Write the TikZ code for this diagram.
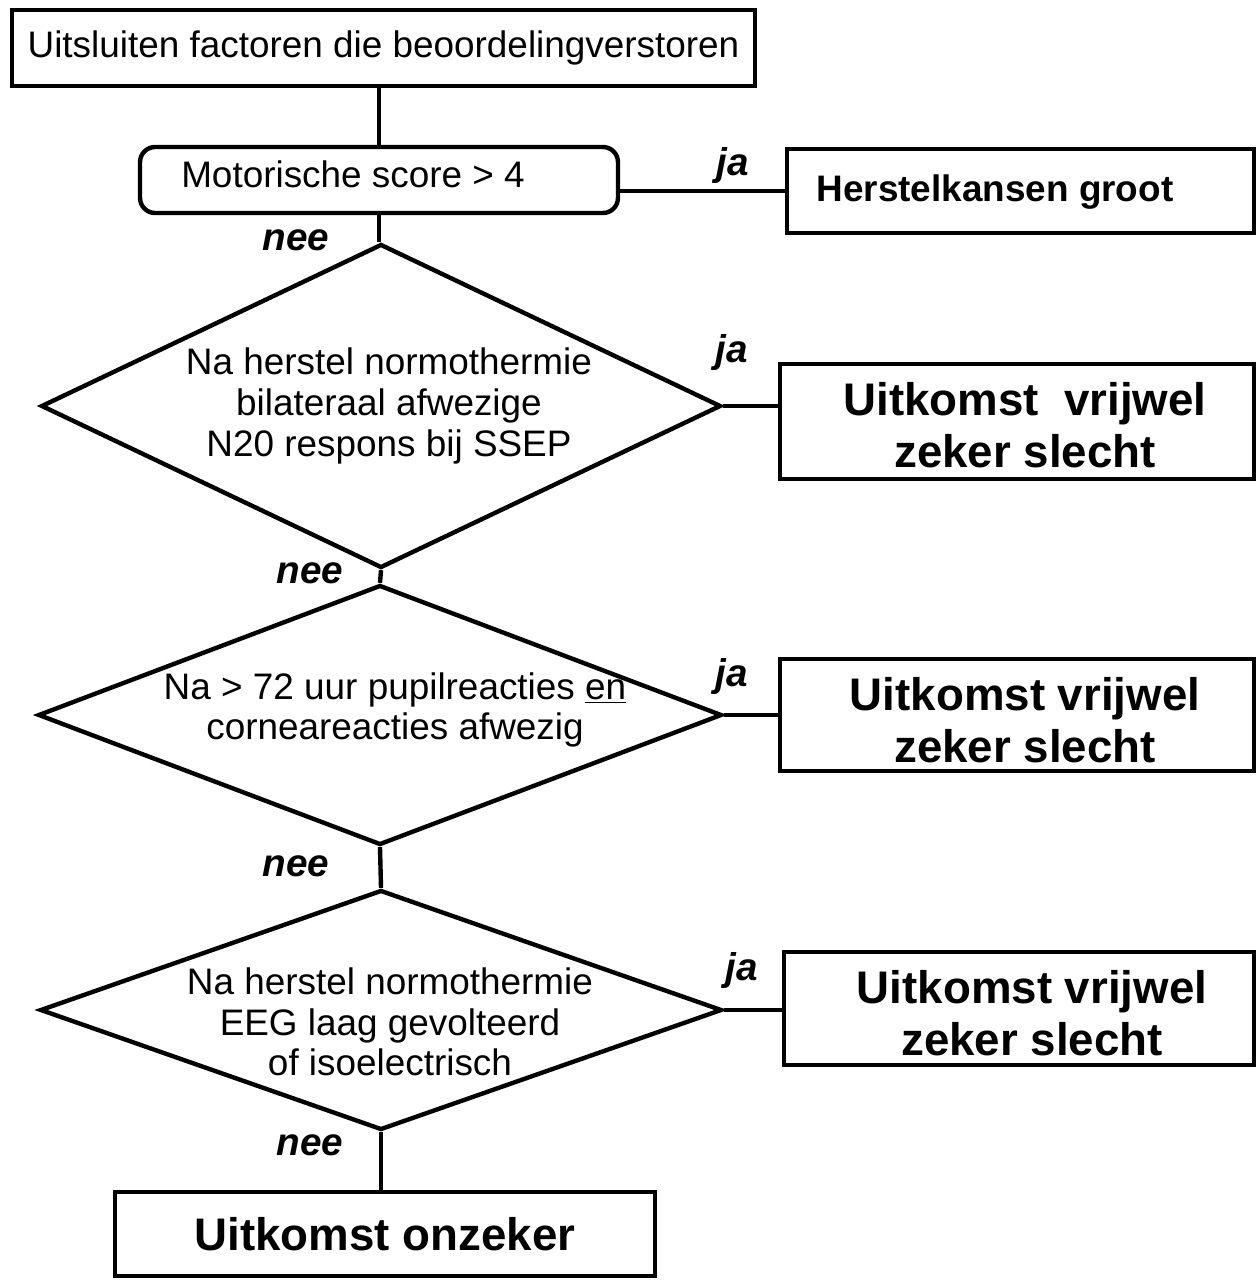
\documentclass[tikz,border=0pt]{standalone}
\usepackage{fontspec}
\setmainfont{Liberation Sans}
\usetikzlibrary{shapes.geometric}
\begin{document}
\begin{tikzpicture}[x=0.02cm,y=-0.02cm,
  box/.style={draw, rectangle, inner sep=0pt, line width=2.5pt},
  dia/.style={draw, diamond, inner sep=0pt, line width=2.5pt},
  conn/.style={line width=2.5pt},
  lbl/.style={font=\fontsize{22}{24}\selectfont\bfseries\itshape, inner sep=0pt},
  txt/.style={font=\fontsize{21}{23.2}\selectfont, align=center, inner sep=0pt},
  bigtxt/.style={font=\fontsize{26}{29.5}\selectfont\bfseries, align=center, inner sep=0pt},
  medtxt/.style={font=\fontsize{21}{23}\selectfont\bfseries, align=center, inner sep=0pt}]
\useasboundingbox (0,0) rectangle (1260,1281);
\fill[white] (0,0) rectangle (1260,1281);

% boxes
\node[box, minimum width=14.86cm, minimum height=1.52cm, txt] (top) at (383.5,48) {Uitsluiten factoren die beoordelingverstoren};
\node[box, rounded corners=0.3cm, minimum width=9.56cm, minimum height=1.32cm] (mot) at (379,180) {};
\node[txt] (mott) at (353,174) {Motorische score > 4};
\node[box, minimum width=9.34cm, minimum height=1.68cm] (hk) at (1020.5,191) {};
\node[medtxt] (hkt) at (995,192) {Herstelkansen groot};

\node[dia, minimum width=13.6cm, minimum height=6.48cm] (d1) at (381,406) {};
\node[txt] (d1t) at (389,406) {Na herstel normothermie\\bilateraal afwezige\\N20 respons bij SSEP};
\node[box, minimum width=9.48cm, minimum height=2.3cm] (b2) at (1017,421.5) {};
\node[bigtxt] (b2t) at (1025,425) {Uitkomst\ \ vrijwel\\zeker slecht};

\node[dia, minimum width=13.68cm, minimum height=5.2cm] (d2) at (380,715) {};
\node[txt] (d2t) at (395,710) {Na > 72 uur pupilreacties \underline{en}\\corneareacties afwezig};
\node[box, minimum width=9.48cm, minimum height=2.24cm] (b3) at (1017,715) {};
\node[bigtxt] (b3t) at (1025,720) {Uitkomst vrijwel\\zeker slecht};

\node[dia, minimum width=13.64cm, minimum height=4.8cm] (d3) at (381,1010) {};
\node[txt] (d3t) at (390,1022) {Na herstel normothermie\\EEG laag gevolteerd\\of isoelectrisch};
\node[box, minimum width=9.4cm, minimum height=2.26cm] (b4) at (1019,1008.5) {};
\node[bigtxt] (b4t) at (1032,1013) {Uitkomst vrijwel\\zeker slecht};

\node[box, minimum width=10.8cm, minimum height=1.68cm, bigtxt] (bot) at (385,1234) {Uitkomst onzeker};

% connectors
\draw[conn] (mot.north |- top.south) -- (mot.north);
\draw[conn] (hk.west -| mot.east) -- (hk.west);
\draw[conn] (mot.south) -- (mot.south |- d1.north);
\draw[conn] (d1.east) -- (d1.east -| b2.west);
\draw[conn] (d1.south) -- (d2.north);
\draw[conn] (d2.east) -- (d2.east -| b3.west);
\draw[conn] (d2.south) -- (d3.north);
\draw[conn] (d3.east) -- (d3.east -| b4.west);
\draw[conn] (d3.south) -- (d3.south |- bot.north);

% labels
\node[lbl] (ja1) at (733,166) {ja};
\node[lbl] (nee1) at (296,240) {nee};
\node[lbl] (ja2) at (732,353) {ja};
\node[lbl] (nee2) at (310,573) {nee};
\node[lbl] (ja3) at (732,676) {ja};
\node[lbl] (nee3) at (296,866) {nee};
\node[lbl] (ja4) at (742,970) {ja};
\node[lbl] (nee4) at (310,1145) {nee};
\end{tikzpicture}
\end{document}
